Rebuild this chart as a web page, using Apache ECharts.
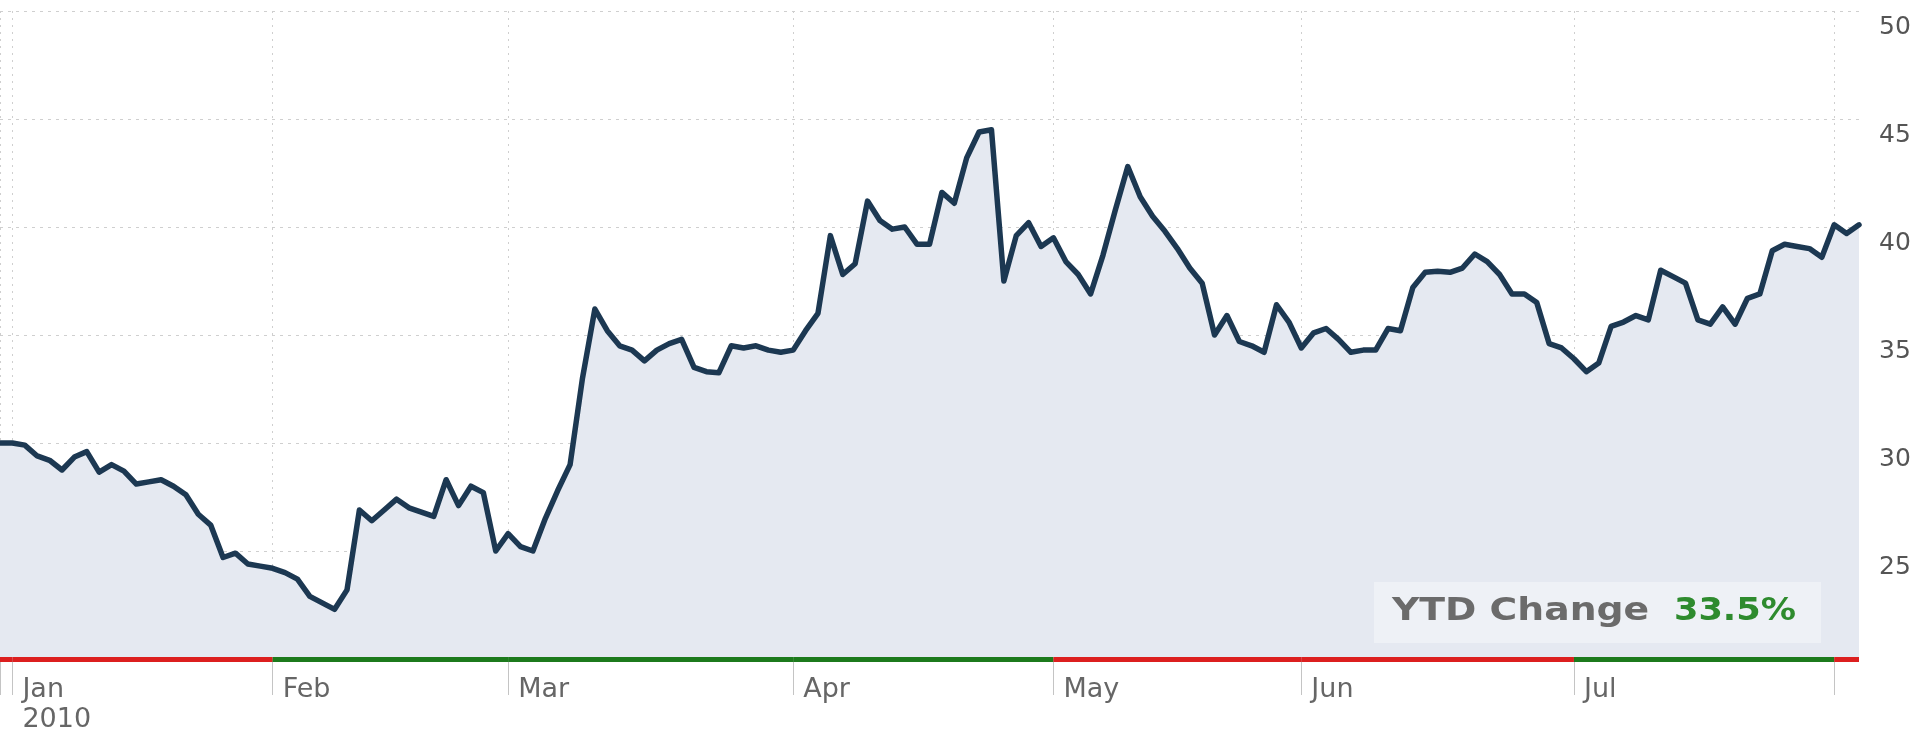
<!DOCTYPE html>
<html>
<head>
<meta charset="utf-8">
<script src="https://cdn.jsdelivr.net/npm/echarts@6/dist/echarts.min.js"></script>
<style>
html,body{margin:0;padding:0;background:#ffffff;}
#chart{width:1920px;height:731px;}
</style>
</head>
<body>
<div id="chart"></div>
<script>
// Daily closing prices (trading days)
const prices = [
  30.0, 30.0, 29.9, 29.4, 29.2, 28.75, 29.35, 29.6, 28.65, 29.0,
  28.7, 28.1, 28.2, 28.3, 28.0, 27.6, 26.7, 26.2, 24.7, 24.9,
  24.4, 24.3, 24.2, 24.0, 23.7, 22.9, 22.6, 22.3, 23.2, 26.9,
  26.4, 26.9, 27.4, 27.0, 26.8, 26.6, 28.3, 27.1, 28.0, 27.7,
  25.0, 25.8, 25.2, 25.0, 26.5, 27.8, 29.0, 33.0, 36.2, 35.2,
  34.5, 34.3, 33.8, 34.3, 34.6, 34.8, 33.5, 33.3, 33.25, 34.5,
  34.4, 34.5, 34.3, 34.2, 34.3, 35.2, 36.0, 39.6, 37.8, 38.3,
  41.2, 40.3, 39.9, 40.0, 39.2, 39.2, 41.6, 41.1, 43.2, 44.4,
  44.5, 37.5, 39.6, 40.2, 39.1, 39.5, 38.4, 37.8, 36.9, 38.7,
  40.8, 42.8, 41.4, 40.5, 39.8, 39.0, 38.1, 37.4, 35.0, 35.9,
  34.7, 34.5, 34.2, 36.4, 35.6, 34.4, 35.1, 35.3, 34.8, 34.2,
  34.3, 34.3, 35.3, 35.2, 37.2, 37.9, 37.95, 37.9, 38.1, 38.75,
  38.4, 37.8, 36.9, 36.9, 36.5, 34.6, 34.4, 33.9, 33.3, 33.7,
  35.4, 35.6, 35.9, 35.7, 38.0, 37.7, 37.4, 35.7, 35.5, 36.3,
  35.5, 36.7, 36.9, 38.9, 39.2, 39.1, 39.0, 38.6, 40.1, 39.7,
  40.1
];
// Month boundaries (index of first trading day of each month) and their labels
const monthTickIndex = [0, 1, 22, 41, 64, 85, 105, 127, 148];
const monthTickLabels = ['', 'Jan\n2010', 'Feb', 'Mar', 'Apr', 'May', 'Jun', 'Jul', ''];
// Price axis
const yMin = 20, yMax = 50, yStep = 5;
// Annotation
const ytdLabel = 'YTD Change';
const ytdValue = '33.5%';

const categories = prices.map((_, i) => i);
const tickSet = new Set(monthTickIndex);
const labelOf = {};
monthTickIndex.forEach((idx, k) => { labelOf[idx] = monthTickLabels[k]; });

// Month performance bar segments along the bottom (red = down, green = up)
const bounds = monthTickIndex.concat([prices.length - 1]);
const segs = [];
for (let k = 0; k < bounds.length - 1; k++) {
  const s = bounds[k], e = bounds[k + 1];
  const up = prices[e] > prices[s];
  segs.push([
    { coord: [s, yMin], lineStyle: { color: up ? '#1c7a1c' : '#dc1f1f' } },
    { coord: [e, yMin] }
  ]);
}

const FONT = 'DejaVu Sans';
const chart = echarts.init(document.getElementById('chart'));
chart.setOption({
  animation: false,
  backgroundColor: '#ffffff',
  grid: { left: 0, right: 61, top: 11, bottom: 72, containLabel: false, outerBoundsMode: 'none' },
  xAxis: {
    type: 'category',
    data: categories,
    boundaryGap: false,
    axisLine: { show: false },
    axisTick: {
      show: true,
      interval: (i) => tickSet.has(i),
      length: 36,
      lineStyle: { color: '#c4c4c4', width: 1 }
    },
    axisLabel: {
      show: true,
      interval: (i) => tickSet.has(i),
      formatter: (v, i) => labelOf[i] !== undefined ? labelOf[i] : '',
      align: 'left',
      verticalAlign: 'top',
      padding: [0, 0, 0, 10],
      margin: 16,
      color: '#666666',
      fontFamily: FONT,
      fontSize: 27,
      lineHeight: 30
    },
    splitLine: {
      show: true,
      interval: (i) => tickSet.has(i),
      lineStyle: { color: '#cfcfcf', width: 1, type: [2, 5] }
    }
  },
  yAxis: {
    type: 'value',
    position: 'right',
    min: yMin,
    max: yMax,
    interval: yStep,
    axisLine: { show: false },
    axisTick: { show: false },
    axisLabel: {
      showMinLabel: false,
      align: 'left',
      verticalAlign: 'top',
      padding: [4, 0, 0, 0],
      margin: 20,
      color: '#555555',
      fontFamily: FONT,
      fontSize: 25
    },
    splitLine: {
      show: true,
      lineStyle: { color: '#cfcfcf', width: 1, type: [3, 5] }
    }
  },
  series: [{
    type: 'line',
    data: prices,
    symbol: 'none',
    smooth: false,
    lineStyle: { color: '#1c3852', width: 5.5, join: 'round', cap: 'round' },
    areaStyle: { color: '#e5e9f1', origin: 'start', opacity: 1 },
    z: 3,
    markLine: {
      silent: true,
      symbol: ['none', 'none'],
      label: { show: false },
      lineStyle: { width: 5, type: 'solid' },
      emphasis: { disabled: true },
      data: segs
    }
  }],
  graphic: [
    {
      type: 'rect',
      shape: { x: 1374, y: 582, width: 447, height: 61 },
      style: { fill: '#eef1f6' },
      z: 100
    },
    {
      type: 'text',
      x: 1392, y: 612,
      scaleX: 1.18,
      style: {
        text: ytdLabel,
        fill: '#6b6b6b',
        font: 'bold 32px "DejaVu Sans"',
        verticalAlign: 'middle',
        align: 'left'
      },
      z: 101
    },
    {
      type: 'text',
      x: 1796, y: 612,
      scaleX: 1.1,
      style: {
        text: ytdValue,
        fill: '#2e8b2e',
        font: 'bold 32px "DejaVu Sans"',
        verticalAlign: 'middle',
        align: 'right'
      },
      z: 101
    }
  ]
});
</script>
</body>
</html>
